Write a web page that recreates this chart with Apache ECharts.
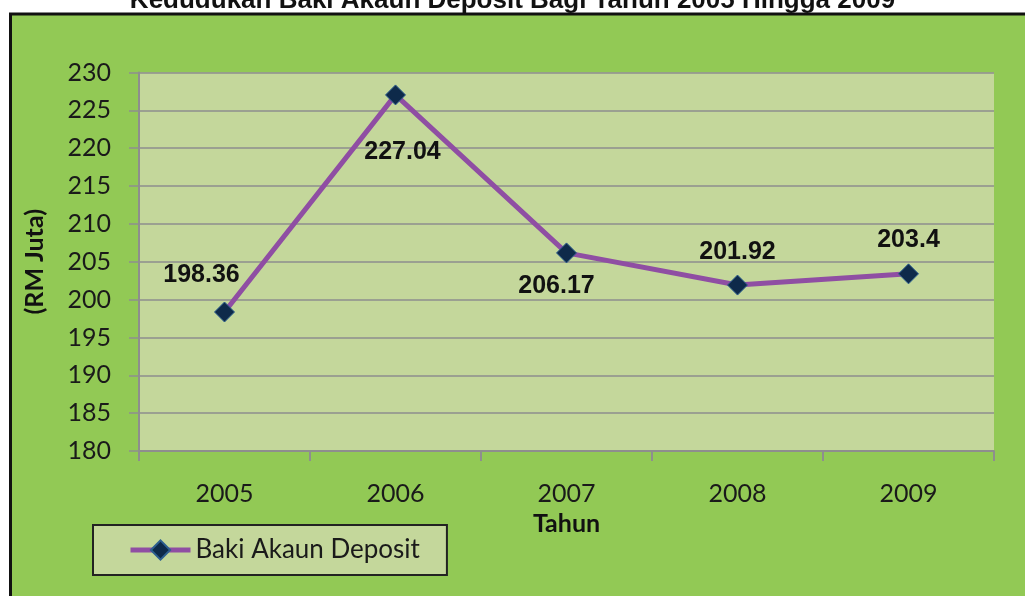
<!DOCTYPE html>
<html>
<head>
<meta charset="utf-8">
<script src="https://cdn.jsdelivr.net/npm/echarts@6/dist/echarts.min.js"></script>
<style>
  html, body { margin: 0; padding: 0; background: #fff; }
  #chart { width: 1025px; height: 596px; }
</style>
</head>
<body>
<div id="chart"></div>
<script>
// chart data
var years = ['2005', '2006', '2007', '2008', '2009']
var bakiDeposit = [198.36, 227.04, 206.17, 201.92, 203.4]
var seriesName = 'Baki Akaun Deposit'

// where each value label sits relative to its marker (style only)
var labelOffsets = [[-23, -37], [7, 57], [-10, 33], [0, -33], [0, -34]]

var chart = echarts.init(document.getElementById('chart'))

var option = {
  backgroundColor: '#ffffff',
  title: {
    text: 'Kedudukan Baki Akaun Deposit Bagi Tahun 2005 Hingga 2009',
    left: 'center',
    top: -12,
    padding: [0, 0, 0, 20],
    textStyle: {
      fontFamily: 'Liberation Sans, Arial, sans-serif',
      fontWeight: 'bold',
      fontSize: 26,
      color: '#111'
    }
  },
  graphic: [
    {
      type: 'rect',
      z: -10,
      silent: true,
      shape: { x: 10.5, y: 14, width: 1100, height: 700 },
      style: { fill: '#92c955', stroke: '#111', lineWidth: 3 }
    }
  ],
  grid: {
    left: 139,
    right: 31,
    top: 72.5,
    bottom: 145,
    show: true,
    backgroundColor: '#c4d79b',
    borderWidth: 0,
    containLabel: false,
    outerBoundsMode: 'none'
  },
  legend: {
    data: [seriesName],
    left: 93,
    top: 525,
    padding: [12, 27, 12, 35],
    backgroundColor: '#c4d79b',
    borderColor: '#222',
    borderWidth: 2,
    borderRadius: 0,
    itemWidth: 60,
    itemHeight: 24,
    lineStyle: { width: 5, color: '#8f4ea3' },
    textStyle: {
      fontFamily: 'Lato, sans-serif',
      fontSize: 26,
      color: '#1a1a1a'
    }
  },
  xAxis: {
    type: 'category',
    data: years,
    boundaryGap: true,
    name: 'Tahun',
    nameLocation: 'middle',
    nameGap: 60,
    nameTextStyle: {
      fontFamily: 'Lato, sans-serif',
      fontWeight: 'bold',
      fontSize: 25,
      color: '#111'
    },
    axisLine: { lineStyle: { color: '#8e8e8e', width: 2 } },
    axisTick: { show: true, length: 10, lineStyle: { color: '#8e8e8e', width: 2 } },
    axisLabel: {
      margin: 30,
      fontFamily: 'Lato, sans-serif',
      fontSize: 25,
      color: '#1a1a1a'
    },
    splitLine: { show: false }
  },
  yAxis: {
    type: 'value',
    min: 180,
    max: 230,
    interval: 5,
    name: '(RM Juta)',
    nameLocation: 'middle',
    nameGap: 92,
    nameTextStyle: {
      fontFamily: 'Lato, sans-serif',
      fontWeight: 'bold',
      fontSize: 25,
      color: '#111'
    },
    axisLine: { show: true, lineStyle: { color: '#8e8e8e', width: 2 } },
    axisTick: { show: true, length: 10, lineStyle: { color: '#8e8e8e', width: 1.5 } },
    axisLabel: {
      margin: 28,
      fontFamily: 'Lato, sans-serif',
      fontSize: 25,
      color: '#1a1a1a'
    },
    splitLine: { show: true, lineStyle: { color: '#8e8e8e', width: 1.5 } }
  },
  series: [
    {
      name: seriesName,
      type: 'line',
      data: bakiDeposit.map(function (v, i) {
        return {
          value: v,
          label: { offset: labelOffsets[i] }
        }
      }),
      symbol: 'diamond',
      symbolSize: 20,
      showAllSymbol: true,
      lineStyle: { color: '#8f4ea3', width: 5 },
      itemStyle: { color: '#0e2a4a', borderColor: '#2d5f8f', borderWidth: 1 },
      label: {
        show: true,
        position: 'inside',
        align: 'center',
        verticalAlign: 'middle',
        fontFamily: 'Liberation Sans, Arial, sans-serif',
        fontWeight: 'bold',
        fontSize: 25,
        color: '#111',
        formatter: function (p) { return String(p.value) }
      },
      emphasis: { disabled: true },
      animation: false
    }
  ]
}

chart.setOption(option, true)
</script>
</body>
</html>
